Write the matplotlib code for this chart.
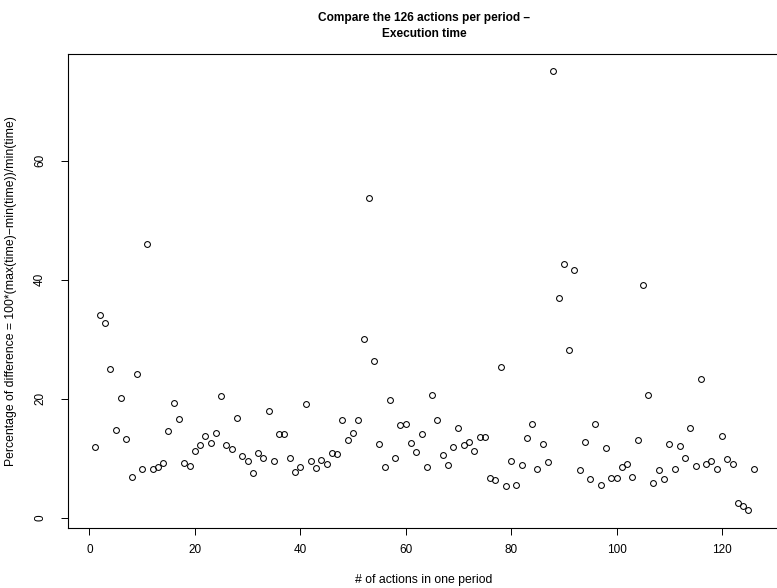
import numpy as np
import matplotlib
matplotlib.use('Agg')
import matplotlib.pyplot as plt

plt.rcParams['font.family'] = ['Liberation Sans', 'DejaVu Sans']

# percentage of difference per action count
pct_diff = [11.8, 34.1, 32.8, 25.0, 14.7, 20.2, 13.2, 6.8, 24.1, 8.2,
            46.0, 8.2, 8.5, 9.2, 14.5, 19.2, 16.6, 9.2, 8.7, 11.2,
            12.3, 13.7, 12.6, 14.2, 20.5, 12.3, 11.5, 16.8, 10.4, 9.6,
            7.5, 10.8, 10.0, 18.0, 9.5, 14.1, 14.1, 10.0, 7.6, 8.5,
            19.1, 9.5, 8.4, 9.7, 9.0, 10.9, 10.7, 16.5, 13.1, 14.2,
            16.4, 30.0, 53.7, 26.3, 12.4, 8.6, 19.8, 10.0, 15.6, 15.8,
            12.6, 11.1, 14.0, 8.6, 20.7, 16.4, 10.5, 8.9, 11.9, 15.0,
            12.2, 12.7, 11.2, 13.6, 13.6, 6.6, 6.3, 25.3, 5.3, 9.5,
            5.5, 8.9, 13.4, 15.7, 8.2, 12.4, 9.3, 75.0, 36.9, 42.6,
            28.2, 41.6, 8.0, 12.7, 6.5, 15.7, 5.5, 11.7, 6.6, 6.6,
            8.5, 9.0, 6.8, 13.1, 39.1, 20.7, 5.9, 8.0, 6.5, 12.4,
            8.2, 12.1, 10.1, 15.0, 8.7, 23.3, 9.1, 9.6, 8.1, 13.7,
            9.9, 9.0, 2.5, 2.0, 1.3, 8.1]
n_actions = np.arange(1, len(pct_diff) + 1)

x_ticks = [0, 20, 40, 60, 80, 100, 120]
y_ticks = [0, 20, 40, 60]

W, H = 777, 588
fig = plt.figure(figsize=(W / 100, H / 100), dpi=100)
# plot box runs past the right edge of the image, like the reference
left, right, top, bottom = 68.3, 780.0, 53.9, 527.5
ax = fig.add_axes([left / W, 1 - bottom / H, (right - left) / W, (bottom - top) / H])

ax.plot(n_actions, pct_diff, linestyle='none', marker='o', markersize=4.2,
        markerfacecolor='none', markeredgecolor='black', markeredgewidth=0.75)

def r_range(vals):
    lo, hi = min(vals), max(vals)
    pad = 0.04 * (hi - lo)
    return lo - pad, hi + pad

ax.set_xlim(r_range(n_actions))
ax.set_ylim(r_range(pct_diff))

ax.set_xticks(x_ticks)
ax.set_yticks(y_ticks)
ax.set_yticklabels([str(t) for t in y_ticks], rotation=90, va='center')
ax.tick_params(axis='both', direction='out', length=5, width=0.7,
               labelsize=8.5)
ax.tick_params(axis='x', pad=7)
ax.tick_params(axis='y', pad=11)
for s in ax.spines.values():
    s.set_linewidth(0.8)

ax.set_title('Compare the 126 actions per period \u2013\nExecution time',
             fontsize=8.6, fontweight='bold', pad=12, linespacing=1.45,
             x=(424 - left) / (right - left))
ax.set_xlabel('# of actions in one period', fontsize=8.8, labelpad=13)
ax.set_ylabel('Percentage of difference = 100*(max(time)\u2212min(time))/min(time)',
              fontsize=8.8, labelpad=12)

fig.savefig('out.png', dpi=100)
